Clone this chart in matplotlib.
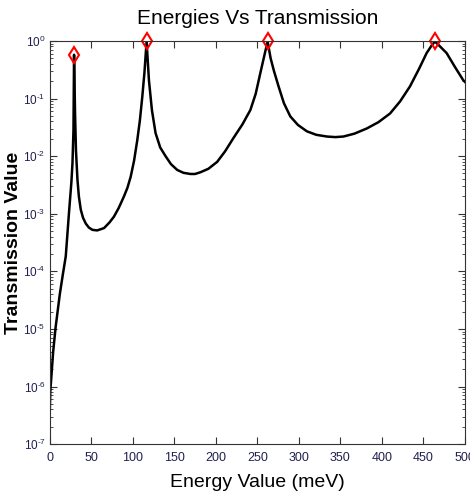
import numpy as np
import matplotlib
matplotlib.use('Agg')
from matplotlib import pyplot as plt
from matplotlib import font_manager
from matplotlib.ticker import LogLocator, NullFormatter, FuncFormatter

#energy (meV) and log10 of transmission
energy = [0, 0.5, 1.5, 4, 7, 12, 15.3, 19.2, 23, 26, 27.3, 28.5, 29.2,
          30.4, 31.5, 33.3, 35, 37.3, 40, 43.3, 47, 51.3, 57, 65.3, 72, 77.3, 83, 89.3,
          93.5, 97.4, 101.5, 105.4, 108.5, 111.4, 114, 116.6,
          119.4, 123, 127.4, 133, 139.4, 146, 153.5, 161, 169.5, 175, 181.5, 191, 201.6,
          211, 221.5, 232, 241.6, 248, 253.6, 258.5, 262.4,
          266, 270, 275.6, 282, 289.7, 299, 309.8, 321, 333.8, 344, 353.7, 367, 381.9,
          396, 409.9, 422, 433.9, 445, 454, 460, 464,
          469, 478, 488, 498, 500]
log_t = [-6.4, -6.1, -5.9, -5.4, -4.97, -4.4, -4.09, -3.74, -3.0, -2.45, -2.12, -1.55, -0.24,
         -1.26, -1.9, -2.41, -2.7, -2.93, -3.07, -3.17, -3.24, -3.28, -3.29, -3.25, -3.15, -3.05, -2.9, -2.70,
         -2.55, -2.36, -2.08, -1.72, -1.38, -0.97, -0.55, -0.01,
         -0.68, -1.2, -1.6, -1.85, -2.0, -2.14, -2.24, -2.29, -2.31, -2.31, -2.28, -2.22, -2.10,
         -1.92, -1.68, -1.45, -1.2, -0.92, -0.56, -0.25, -0.01,
         -0.3, -0.52, -0.79, -1.08, -1.31, -1.46, -1.57, -1.63, -1.66, -1.67, -1.66, -1.61, -1.52,
         -1.41, -1.26, -1.05, -0.79, -0.48, -0.21, -0.08, -0.01,
         -0.08, -0.21, -0.45, -0.68, -0.71]
transmission = 10 ** np.array(log_t)

#resonance peaks
peak_e = [29.2, 116.6, 262.4, 464]
peak_t = [0.57, 0.98, 0.98, 0.98]

#narrow font for ticks if it is there
names = {f.name for f in font_manager.fontManager.ttflist}
narrow = 'Liberation Sans Narrow' if 'Liberation Sans Narrow' in names else 'Liberation Sans'
plt.rcParams['mathtext.fontset'] = 'custom'
plt.rcParams['mathtext.rm'] = narrow
plt.rcParams['mathtext.it'] = narrow
plt.rcParams['mathtext.bf'] = narrow
plt.rcParams['font.family'] = [narrow, 'DejaVu Sans']

fig = plt.figure(figsize=(4.7, 4.99), dpi=100)
ax = fig.add_axes([0.106, 0.110, 0.883, 0.808])

ax.semilogy(energy, transmission, color='black', linewidth=1.8)
ax.plot(peak_e, peak_t, 'd', mfc='none', mec='red', mew=1.5, markersize=8.5, clip_on=False)

ax.set_xlim(0, 500)
ax.set_ylim(1e-7, 1e0)
ax.set_xticks(np.arange(0, 501, 50))
ax.yaxis.set_major_locator(LogLocator(base=10, numticks=10))
ax.yaxis.set_minor_locator(LogLocator(base=10, subs=np.arange(2, 10), numticks=20))
ax.yaxis.set_minor_formatter(NullFormatter())
#short hyphen in the exponent like the original
ax.yaxis.set_major_formatter(FuncFormatter(
    lambda v, p: '$10^{%s}$' % ('{\\text{-}}%d' % -round(np.log10(v)) if v < 1 else '0')))

tick_col = '#202050'
ax.tick_params(which='both', direction='in', top=True, right=True, colors='#333333',
               labelcolor=tick_col, labelsize=9)
ax.tick_params(axis='y', labelsize=8.5)
ax.tick_params(which='major', length=5)
ax.tick_params(which='minor', length=2.5)
ax.tick_params(axis='x', pad=6)
ax.tick_params(axis='y', pad=3)
for s in ax.spines.values():
    s.set_color('#333333')

ax.set_title('Energies Vs Transmission', fontsize=15, family=[narrow], pad=12)
ax.set_xlabel('Energy Value (meV)', fontsize=14, family=[narrow], labelpad=7)
ax.set_ylabel('Transmission Value', fontsize=14, fontweight='bold', family='Liberation Sans')
ax.yaxis.set_label_coords(-0.066, 0.5)

plt.savefig('out.png', dpi=100)
plt.close()
